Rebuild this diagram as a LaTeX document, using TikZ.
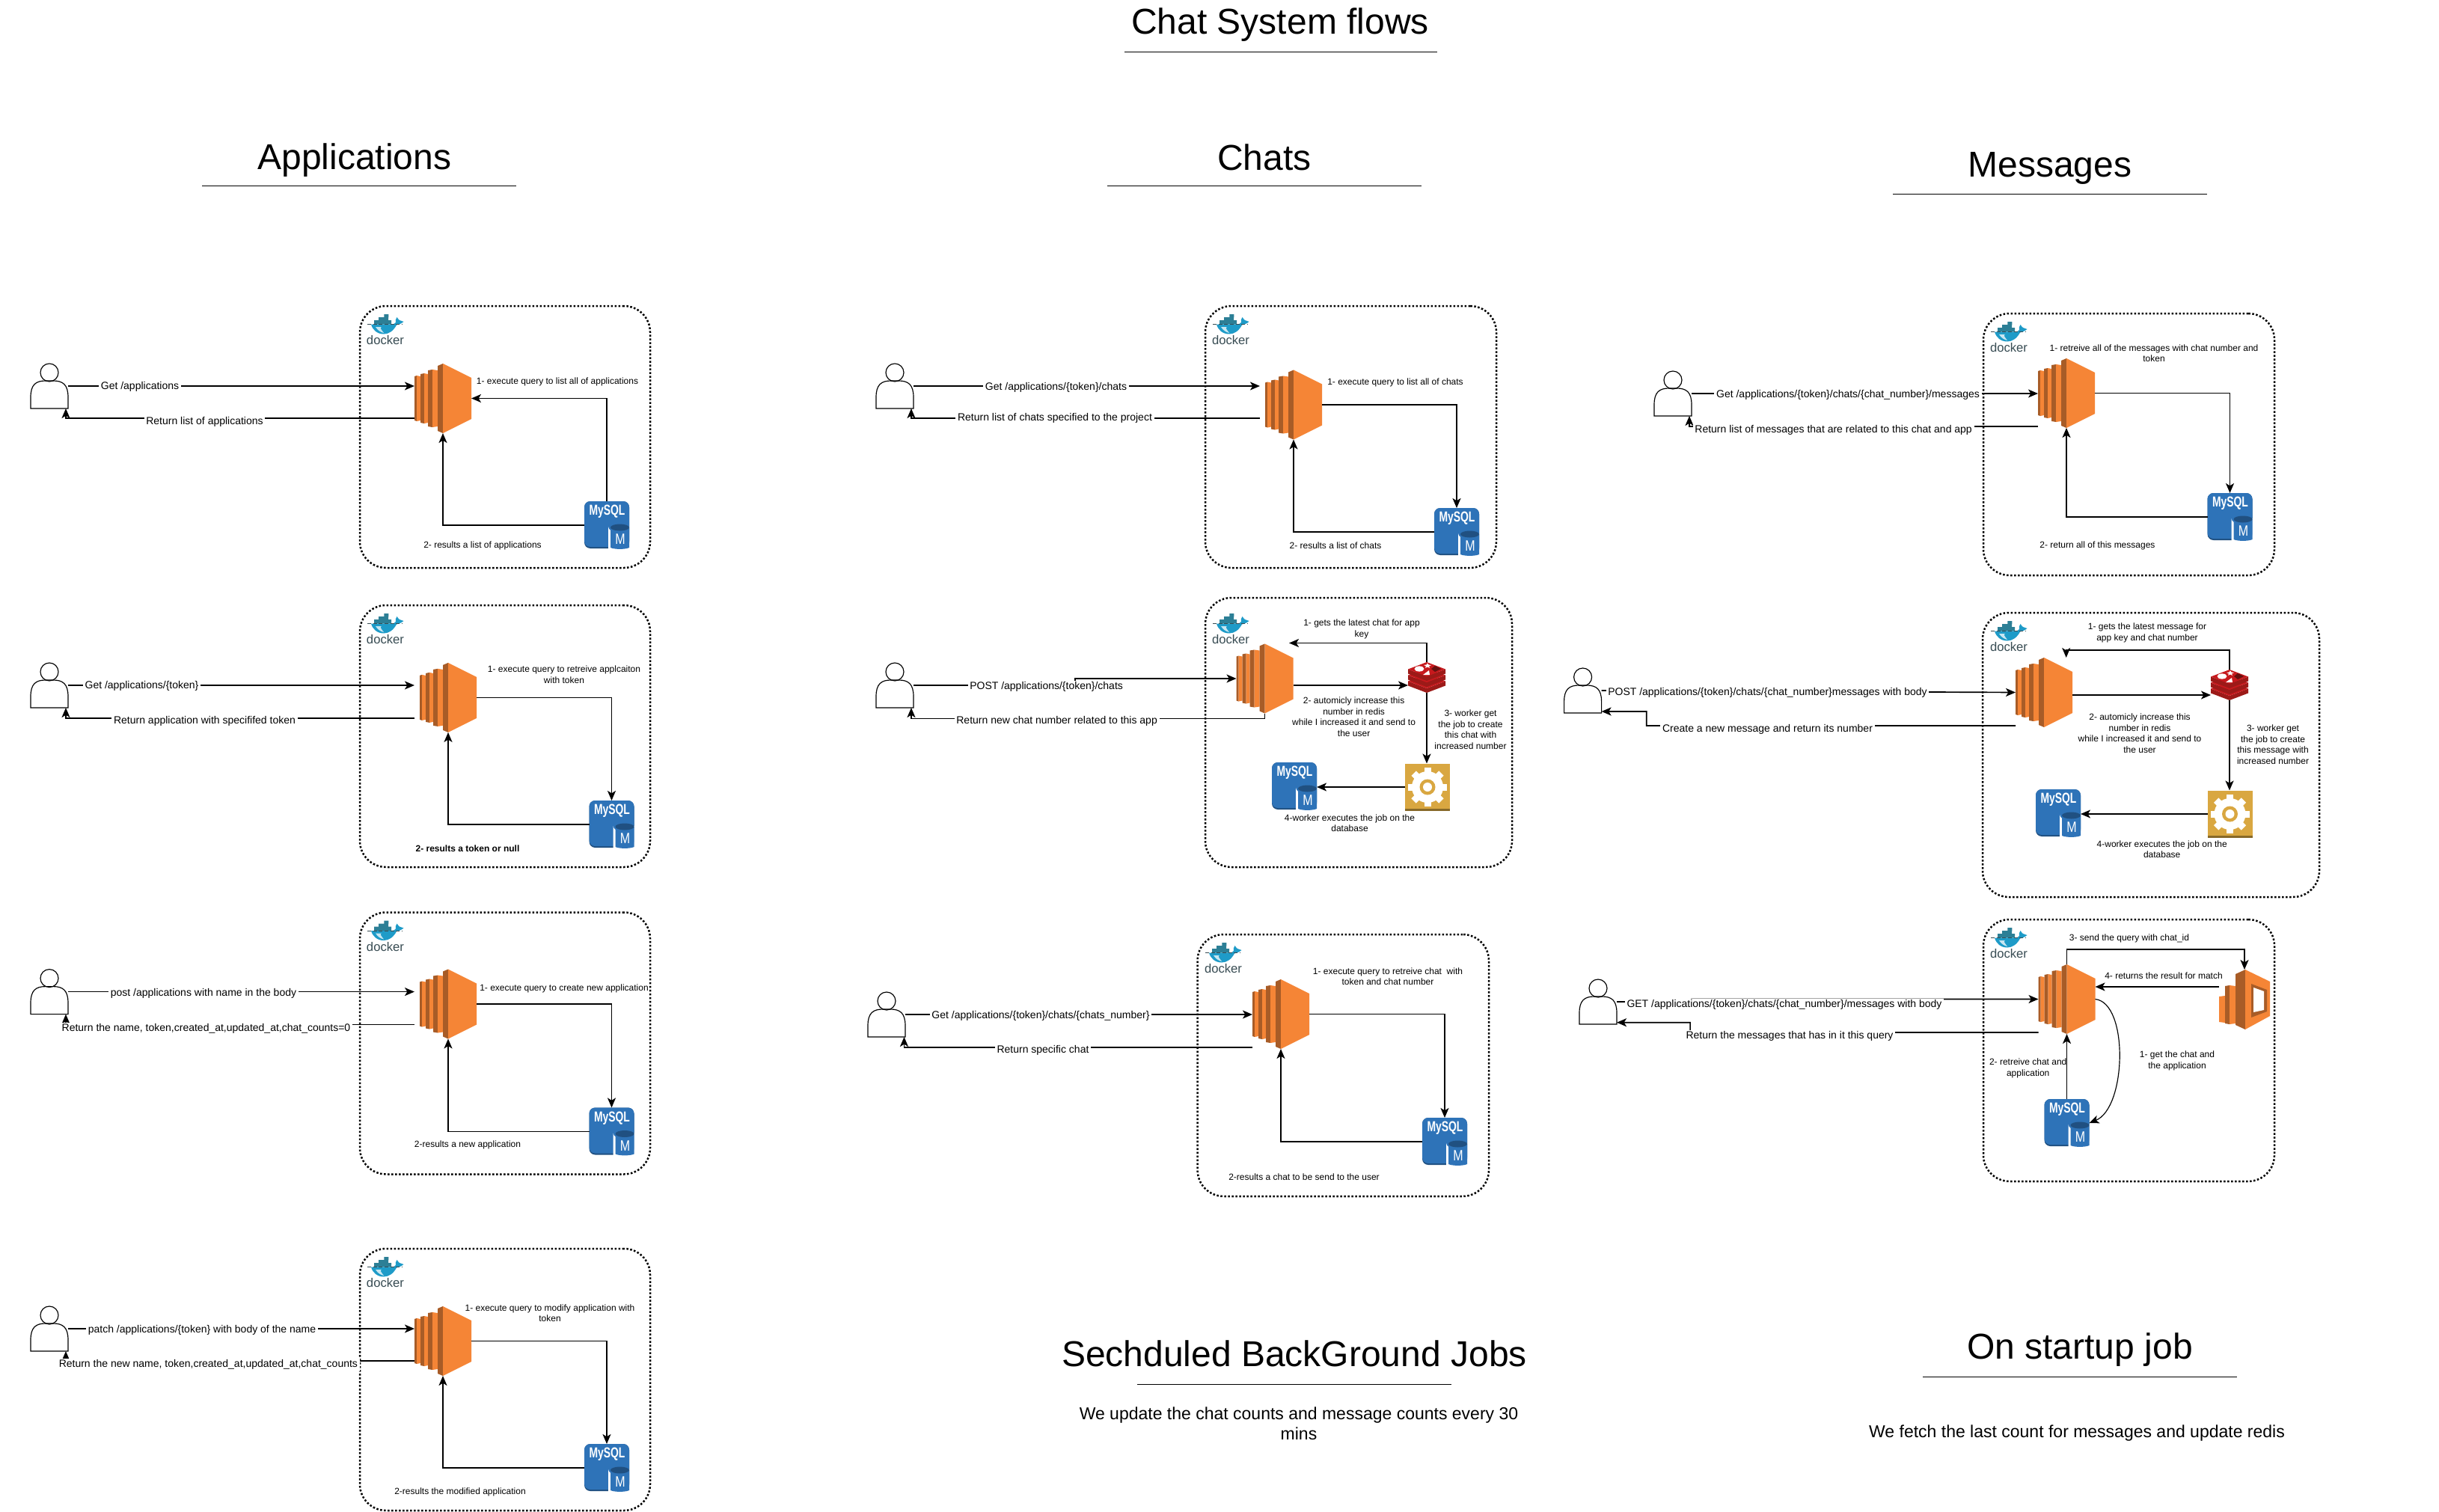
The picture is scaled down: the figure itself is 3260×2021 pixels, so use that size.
\documentclass[tikz,border=0pt]{standalone}
\usepackage{fontspec}
\usepackage{graphicx}
\setmainfont{Liberation Sans}
\usetikzlibrary{arrows.meta,calc}
\definecolor{ecorange}{HTML}{F58536}
\definecolor{ecdark}{HTML}{A85C27}
\definecolor{mysqlblue}{HTML}{2E73B8}
\definecolor{mysqldark}{HTML}{205081}
\definecolor{redisred}{HTML}{C6191D}
\definecolor{redisdark}{HTML}{9C1A18}
\definecolor{workergold}{HTML}{D9A741}
\definecolor{workerdark}{HTML}{876929}
\definecolor{dockblue}{HTML}{1E9BC8}
\definecolor{dockteal}{HTML}{2C7F96}
\definecolor{dockgrey}{HTML}{394D54}
\tikzset{
  iconbox/.style={inner sep=0pt,outer sep=0pt,minimum width=#1},
  panelbox/.style={draw,line width=.75pt,dash pattern=on .75pt off .75pt,rounded corners=10.5pt,inner sep=0pt,outer sep=0pt},
  conn/.style={draw,line width=.5pt,-{Stealth[length=3.9pt,width=3.3pt,inset=1pt]}},
  rule/.style={draw,line width=.3pt},
  title/.style={font=\fontsize{14.4}{17.3}\selectfont,inner sep=0pt},
  subtext/.style={font=\fontsize{6.9}{8.1}\selectfont,align=center,inner sep=0pt},
  elabel/.style={font=\fontsize{4.2}{5}\selectfont,fill=white,inner xsep=.8pt,inner ysep=.6pt,yshift=-.4pt},
  note/.style={font=\fontsize{3.6}{4.4}\selectfont,align=center,inner sep=0pt,yshift=-.2pt},
}
% AWS compute icon, 76 x 93
\newcommand{\ecnode}[3]{%
  \node[iconbox=22.8pt,minimum height=27.9pt] (#1) at (#2,#3) {};
  \begin{scope}[shift={(#2-38,#3-46.5)}]
    \fill[ecdark] (0,17) -- (3,16) -- (3,77) -- (0,76) -- cycle;
    \fill[ecorange] (3,16) -- (8,17) -- (8,76) -- (3,77) -- cycle;
    \fill[ecdark] (8,14) -- (13,13) -- (13,80) -- (8,79) -- cycle;
    \fill[ecorange] (13,13) -- (18,14) -- (18,79) -- (13,80) -- cycle;
    \fill[ecdark] (18,9) -- (24,8) -- (24,85) -- (18,84) -- cycle;
    \fill[ecorange] (24,8) -- (31,9) -- (31,84) -- (24,85) -- cycle;
    \fill[ecdark] (31,3) -- (38,0) -- (38,93) -- (31,90) -- cycle;
    \fill[ecorange] (38,0) -- (76,19) -- (76,74) -- (38,93) -- cycle;
  \end{scope}}
% database icon, 60 x 64
\newcommand{\sqlnode}[3]{%
  \node[iconbox=18pt,minimum height=19.2pt] (#1) at (#2,#3) {};
  \begin{scope}[shift={(#2,#3)}]
    \fill[mysqldark,rounded corners=2.4pt] (-30,-32) rectangle (30,31);
    \fill[mysqlblue,rounded corners=2.4pt] (-30,-32) rectangle (30,29);
    \fill[white] (2,2) -- (2,32) -- (30,32) -- (30,2) arc[start angle=0,end angle=180,x radius=14,y radius=8];
    \fill[mysqlblue] (5,3) -- (5,30) .. controls (10,32.5) and (25,32.5) .. (30,30) -- (30,3) -- cycle;
    \fill[mysqldark] (17.5,3) ellipse [x radius=12.5,y radius=4.5];
    \node[inner sep=0pt,text=white,font=\fontsize{5.8}{6}\bfseries\selectfont] (#1t) at (0.5,-18) {\scalebox{.72}[1]{MySQL}};
    \node[inner sep=0pt,text=white,font=\fontsize{6}{6}\selectfont] (#1u) at (18,19) {\scalebox{.8}[1]{M}};
  \end{scope}}
% container whale with word, 50 x 41
\newcommand{\docknode}[3]{%
  \begin{scope}[shift={(#2,#3)}]
    \fill[dockteal] (-15,-12) rectangle (8,-6.5) (-9,-16) rectangle (4,-12) (-1.7,-20) rectangle (4.3,-16);
    \fill[dockblue] (-19,-6.5) -- (8,-6.5) .. controls (11,-6.5) and (13,-7.5) .. (14,-9)
      .. controls (13,-11) and (14,-14) .. (15.5,-16) .. controls (17,-14) and (18,-12.5) .. (19,-12)
      -- (24.5,-10) .. controls (21,-7) and (17,-6) .. (15,-5.5)
      .. controls (11,2) and (5,6.5) .. (-2,6.5) .. controls (-11,6.5) and (-17,1) .. (-19,-6.5) -- cycle;
    \fill[white!75!dockblue] (-13,-3) .. controls (-10,2) and (-6,4) .. (-2,5) .. controls (-5,1) and (-8,-2) .. (-5,-3) -- cycle;
    \draw[dockgrey,line width=.15pt,dash pattern=on 1.5pt off .8pt] (-24,-6.5) -- (23,-6.5);
    \node[inner sep=0pt,text=dockgrey,font=\fontsize{5}{5}\selectfont] (#1) at (0,15) {docker};
  \end{scope}}
% actor, 50 x 60
\newcommand{\actornode}[3]{%
  \node[iconbox=15pt,minimum height=18pt] (#1) at (#2,#3) {};
  \begin{scope}[shift={(#2,#3)}]
    \draw[line width=.35pt] (0,-18) circle [radius=12];
    \draw[line width=.35pt] (-25,30) -- (-25,15) .. controls (-25,-2) and (-18,-7) .. (-5,-7) -- (5,-7)
      .. controls (18,-7) and (25,-2) .. (25,15) -- (25,30) -- cycle;
  \end{scope}}
% stacked cache icon, 50 x 41
\newcommand{\cachenode}[3]{%
  \node[iconbox=15pt,minimum height=12.3pt] (#1) at (#2,#3) {};
  \begin{scope}[shift={(#2-25,#3-20.5)}]
    \foreach \d in {16,8,0}{
      \fill[redisdark] (0,9.5+\d) -- (25,19+\d) -- (50,9.5+\d) -- (50,15.5+\d) -- (25,25+\d) -- (0,15.5+\d) -- cycle;
      \fill[redisred] (25,0+\d) -- (50,9.5+\d) -- (25,19+\d) -- (0,9.5+\d) -- cycle;}
    \fill[white] (15,9) ellipse [x radius=6.5,y radius=3.6];
    \fill[white] (26,1.5) -- (27.5,3.5) -- (31,4) -- (28,5.5) -- (29,7.8) -- (26,6.5) -- (23,7.8) -- (24,5.5) -- (21,4) -- (24.5,3.5) -- cycle;
    \fill[white] (20,17) -- (29,17) -- (28,11) -- cycle;
    \fill[redisdark!65!black] (36,5) -- (44,9) -- (36,13) -- (31,9) -- cycle;
  \end{scope}}
% worker icon, 60 x 63
\newcommand{\jobnode}[3]{%
  \node[iconbox=18pt,minimum height=18.9pt] (#1) at (#2,#3) {};
  \begin{scope}[shift={(#2,#3)}]
    \fill[workergold] (-30,-31.5) rectangle (30,31.5);
    \fill[workerdark] (-30,28.5) rectangle (30,31.5);
    \foreach \a in {0,45,...,315}{\fill[white,rotate=\a] (-4.5,-26) rectangle (4.5,-18);}
    \fill[white] (0,0) circle [radius=21];
    \fill[workergold] (0,0) circle [radius=10.5];
    \fill[white] (0,0) circle [radius=6];
  \end{scope}}
% search-service icon, 68 x 80
\newcommand{\searchnode}[3]{%
  \node[iconbox=20.4pt,minimum height=24pt] (#1) at (#2,#3) {};
  \begin{scope}[shift={(#2-34,#3-40)}]
    \fill[ecorange] (0,36) -- (8,35) -- (8,71) -- (0,70) -- cycle;
    \fill[ecdark] (8,22) -- (14,21) -- (14,73) -- (8,72) -- cycle;
    \fill[ecorange] (14,21) -- (22,22) -- (22,72) -- (14,73) -- cycle;
    \fill[ecdark] (22,6) -- (35,0) -- (35,80) -- (22,74) -- cycle;
    \fill[ecorange] (35,0) -- (68,16) -- (68,62) -- (35,80) -- cycle;
    \fill[ecdark] (43,19) -- (64,27) -- (64,56) -- (43,64) -- cycle;
    \fill[white] (46,24) -- (60,29) -- (60,54) -- (46,57) -- cycle;
  \end{scope}}
\newcommand{\panel}[5]{\node[panelbox,minimum width={(#4-#2)*0.3pt},minimum height={(#5-#3)*0.3pt}] (#1) at ({(#2+#4)/2},{(#3+#5)/2}) {};}
\begin{document}
\begin{tikzpicture}[x=0.3pt,y=-0.3pt]
\fill[white] (0,0) rectangle (3260,2021);
\useasboundingbox (0,0) rectangle (3260,2021);

% ---- titles
\node[title] (t0) at (1711,33) {Chat System flows};
\coordinate (t0a) at (1503,70); \coordinate (t0b) at (1921,70); \draw[rule] (t0a) -- (t0b);
\node[title] (t1) at (474,214) {Applications};
\coordinate (t1a) at (270,249); \coordinate (t1b) at (690,249); \draw[rule] (t1a) -- (t1b);
\node[title] (t2) at (1690,210) {Chats};
\coordinate (t2a) at (1480,249); \coordinate (t2b) at (1900,249); \draw[rule] (t2a) -- (t2b);
\node[title] (t3) at (2740,225) {Messages};
\coordinate (t3a) at (2530,260); \coordinate (t3b) at (2950,260); \draw[rule] (t3a) -- (t3b);
\node[title] (t4) at (1730,1809) {Sechduled BackGround Jobs};
\coordinate (t4a) at (1520,1850); \coordinate (t4b) at (1940,1850); \draw[rule] (t4a) -- (t4b);
\node[subtext] (t4s) at (1736,1903) {We update the chat counts and message counts every 30\\mins};
\node[title] (t5) at (2780,1804) {On startup job};
\coordinate (t5a) at (2570,1840); \coordinate (t5b) at (2990,1840); \draw[rule] (t5a) -- (t5b);
\node[subtext] (t5s) at (2776,1916) {We fetch the last count for messages and update redis};

% ---- A1
\panel{a1b}{481}{409}{869}{759}
\docknode{a1k}{515}{440}
\actornode{a1p}{66}{516}
\ecnode{a1e}{592}{532.5}
\sqlnode{a1m}{811}{702}
\draw[conn] (a1p.east) -- (a1p.east -| a1e.west);
\draw[conn] ($(a1e.west)+(0,26.5)$) -| ($(a1p.south east)+(-3,0)$);
\draw[conn] (a1m.north) |- (a1e.east);
\draw[conn] (a1m.west) -| (a1e.south);
\node[elabel] (a1l1) at (187,516) {Get /applications};
\node[elabel] (a1l2) at (273.5,563) {Return list of applications};
\node[note] (a1n1) at (745,510) {1- execute query to list all of applications};
\node[note] (a1n2) at (645,729) {2- results a list of applications};

% ---- A2
\panel{a2b}{481}{809}{869}{1159}
\docknode{a2k}{515}{840}
\actornode{a2p}{66}{916}
\ecnode{a2e}{599}{932.4}
\sqlnode{a2m}{817.5}{1102}
\coordinate (a2x) at ($(a2e.west)+(-7,-16.5)$);
\draw[conn] (a2p.east) -- (a2p.east -| a2x);
\draw[conn] ($(a2x)+(0,44)$) -| ($(a2p.south east)+(-3,0)$);
\draw[conn] (a2e.east) -| (a2m.north);
\draw[conn] (a2m.west) -| (a2e.south);
\node[elabel] (a2l1) at (189.5,916) {Get /applications/\{token\}};
\node[elabel] (a2l2) at (273.5,963) {Return application with specififed token};
\node[note] (a2n1) at (754,901) {1- execute query to retreive applcaiton\\with token};
\node[note,font=\fontsize{3.6}{4.4}\bfseries\selectfont] (a2n2) at (625,1134) {2- results a token or null};

% ---- A3
\panel{a3b}{481}{1219.5}{869}{1569.5}
\docknode{a3k}{515}{1250.5}
\actornode{a3p}{66}{1325.6}
\ecnode{a3e}{599}{1342}
\sqlnode{a3m}{817.5}{1512.5}
\coordinate (a3x) at ($(a3e.west)+(-7,-16.5)$);
\draw[conn] (a3p.east) -- (a3p.east -| a3x);
\draw[conn] ($(a3x)+(0,44)$) -| ($(a3p.south east)+(-3,0)$);
\draw[conn] (a3e.east) -| (a3m.north);
\draw[conn] (a3m.west) -| (a3e.south);
\node[elabel] (a3l1) at (272,1327) {post /applications with name in the body};
\node[elabel] (a3l2) at (275.5,1374) {Return the name, token,created\_at,updated\_at,chat\_counts=0};
\node[note] (a3n1) at (754,1321) {1- execute query to create new application};
\node[note] (a3n2) at (625,1530) {2-results a new application};

% ---- A4
\panel{a4b}{481}{1669}{869}{2019}
\docknode{a4k}{515}{1700}
\actornode{a4p}{66}{1776}
\ecnode{a4e}{592}{1792.5}
\sqlnode{a4m}{811}{1962}
\draw[conn] (a4p.east) -- (a4p.east -| a4e.west);
\draw[conn] ($(a4e.west)+(0,26.5)$) -| ($(a4p.south east)+(-3,0)$);
\draw[conn] (a4e.east) -| (a4m.north);
\draw[conn] (a4m.west) -| (a4e.south);
\node[elabel] (a4l1) at (270,1777) {patch /applications/\{token\} with body of the name};
\node[elabel] (a4l2) at (278.4,1823) {Return the new name, token,created\_at,updated\_at,chat\_counts};
\node[note] (a4n1) at (735,1754.5) {1- execute query to modify application with\\token};
\node[note] (a4n2) at (615,1994) {2-results the modified application};

% ---- C1
\panel{c1b}{1611}{409}{2000}{759}
\docknode{c1k}{1645}{440}
\actornode{c1p}{1196}{516}
\ecnode{c1e}{1729}{541}
\sqlnode{c1m}{1947}{711}
\coordinate (c1x) at ($(c1e.west)+(-7,-25)$);
\draw[conn] (c1p.east) -- (c1p.east -| c1x);
\draw[conn] ($(c1x)+(0,43)$) -| ($(c1p.south east)+(-3,0)$);
\draw[conn] (c1e.east) -| (c1m.north);
\draw[conn] (c1m.west) -| (c1e.south);
\node[elabel] (c1l1) at (1411.5,517) {Get /applications/\{token\}/chats};
\node[elabel] (c1l2) at (1410,558) {Return list of chats specified to the project};
\node[note] (c1n1) at (1865,511) {1- execute query to list all of chats};
\node[note] (c1n2) at (1785,729) {2- results a list of chats};

% ---- C2
\panel{c2b}{1611}{799}{2021}{1159}
\docknode{c2k}{1645}{840}
\actornode{c2p}{1196}{916}
\ecnode{c2e}{1690.5}{907}
\cachenode{c2r}{1907}{905.5}
\jobnode{c2w}{1908}{1052}
\sqlnode{c2d}{1730}{1051}
\draw[conn] (c2p.east) -- ++(216,0) -- ++(0,-9) -- (c2e.west);
\draw[conn] (c2e.south) -- ($(c2e.south)+(0,7)$) -| ($(c2p.south east)+(-3,0)$);
\coordinate (c2a) at ($(c2e.east)+(0,9)$);
\draw[conn] (c2a) -- (c2a -| c2r.west);
\coordinate (c2t) at ($(c2e.north)+(32.5,-1)$);
\draw[conn] (c2r.north) |- (c2t);
\draw[conn] (c2r.south) -- (c2r.south |- c2w.north);
\draw[conn] (c2w.west) -- (c2w.west -| c2d.east);
\node[elabel] (c2l1) at (1398.6,917) {POST /applications/\{token\}/chats};
\node[elabel] (c2l2) at (1412.6,963) {Return new chat number related to this app};
\node[note] (c2n1) at (1820,840.5) {1- gets the latest chat for app\\key};
\node[note] (c2n2) at (1809.6,957.5) {2- automicly increase this\\number in redis\\while I increased it and send to\\the user};
\node[note] (c2n3) at (1965.5,974.5) {3- worker get\\the job to create\\this chat with\\increased number};
\node[note] (c2n4) at (1804,1099.5) {4-worker executes the job on the\\database};

% ---- C3
\panel{c3b}{1600.6}{1249}{1990}{1599}
\docknode{c3k}{1635}{1280}
\actornode{c3p}{1185}{1356}
\ecnode{c3e}{1712}{1355.5}
\sqlnode{c3m}{1931}{1526}
\draw[conn] (c3p.east) -- (c3p.east -| c3e.west);
\draw[conn] ($(c3e.west)+(0,44.5)$) -| ($(c3p.south east)+(-1.5,0)$);
\draw[conn] (c3e.east) -| (c3m.north);
\draw[conn] (c3m.west) -| (c3e.south);
\node[elabel] (c3l1) at (1391,1357) {Get /applications/\{token\}/chats/\{chats\_number\}};
\node[elabel] (c3l2) at (1394,1403) {Return specific chat};
\node[note] (c3n1) at (1855,1304.5) {1- execute query to retreive chat~ with\\token and chat number};
\node[note] (c3n2) at (1743,1573) {2-results a chat to be send to the user};

% ---- M1
\panel{m1b}{2651}{419}{3040}{769}
\docknode{m1k}{2685}{450}
\actornode{m1p}{2236}{526}
\ecnode{m1e}{2762}{525.5}
\sqlnode{m1m}{2980.5}{691}
\draw[conn] (m1p.east) -- (m1p.east -| m1e.west);
\draw[conn] ($(m1e.west)+(0,44.5)$) -| ($(m1p.south east)+(-3,0)$);
\draw[conn] (m1e.east) -| (m1m.north);
\draw[conn] (m1m.west) -| (m1e.south);
\node[elabel] (m1l1) at (2470,527) {Get /applications/\{token\}/chats/\{chat\_number\}/messages};
\node[elabel] (m1l2) at (2450.6,574) {Return list of messages that are related to this chat and app};
\node[note] (m1n1) at (2879,471.5) {1- retreive all of the messages with chat number and\\token};
\node[note] (m1n2) at (2803.4,729) {2- return all of this messages};

% ---- M2
\panel{m2b}{2650}{819}{3100}{1199}
\docknode{m2k}{2685}{850}
\actornode{m2p}{2115.6}{923}
\ecnode{m2e}{2732}{925.5}
\cachenode{m2r}{2980}{915.5}
\jobnode{m2w}{2980.5}{1088}
\sqlnode{m2d}{2751}{1087}
\draw[conn] (m2p.east) -- (m2e.west);
\draw[conn] ($(m2e.west)+(0,44.5)$) -- ++(-493.3,0) -- ++(0,-19) -- ($(m2p.south east)+(0,-2)$);
\coordinate (m2a) at ($(m2e.east)+(0,3.5)$);
\draw[conn] (m2a) -- (m2a -| m2r.west);
\coordinate (m2t) at ($(m2e.north)+(29.7,0)$);
\draw[conn] (m2r.north) |- ($(m2t)+(0,-10)$) -- (m2t);
\draw[conn] (m2r.south) -- (m2r.south |- m2w.north);
\draw[conn] (m2w.west) -- (m2w.west -| m2d.east);
\node[elabel] (m2l1) at (2362.5,925) {POST /applications/\{token\}/chats/\{chat\_number\}messages with body};
\node[elabel] (m2l2) at (2362.5,974) {Create a new message and return its number};
\node[note] (m2n1) at (2870,845.5) {1- gets the latest message for\\app key and chat number};
\node[note] (m2n2) at (2860,979.5) {2- automicly increase this\\number in redis\\while I increased it and send to\\the user};
\node[note] (m2n3) at (3038,994.5) {3- worker get\\the job to create\\this message with\\increased number};
\node[note] (m2n4) at (2889.7,1134.5) {4-worker executes the job on the\\database};

% ---- M3
\panel{m3b}{2651}{1229}{3040}{1579}
\docknode{m3k}{2685}{1260}
\actornode{m3p}{2136}{1339}
\ecnode{m3e}{2762.5}{1335.5}
\searchnode{m3s}{3000}{1336}
\sqlnode{m3d}{2762.5}{1501}
\draw[conn] (m3p.east) -- ++(100,0) -- ++(0,-3.5) -- (m3e.west);
\draw[conn] ($(m3e.west)+(0,44.5)$) -- ++(-465.4,0) -- ++(0,-13.3) -- ($(m3p.south east)+(0,-2.3)$);
\draw[conn] (m3e.north) -- ++(0,-20) -| (m3s.north);
\coordinate (m3c) at ($(m3s.west)+(0,-17)$);
\draw[conn] (m3c) -- (m3c -| m3e.east);
\draw[conn,line width=.35pt] (m3e.east) .. controls +(45,5) and +(50,-20) .. (m3d.east);
\draw[conn] (m3d.north) -- (m3e.south);
\node[elabel] (m3l1) at (2385,1342) {GET /applications/\{token\}/chats/\{chat\_number\}/messages with body};
\node[elabel] (m3l2) at (2392,1384) {Return the messages that has in it this query};
\node[note] (m3n1) at (2846,1254) {3- send the query with chat\_id};
\node[note] (m3n2) at (2892,1304) {4- returns the result for match};
\node[note] (m3n3) at (2910,1417.5) {1- get the chat and\\the application};
\node[note] (m3n4) at (2710.7,1427.5) {2- retreive chat and\\application};
\end{tikzpicture}
\end{document}
